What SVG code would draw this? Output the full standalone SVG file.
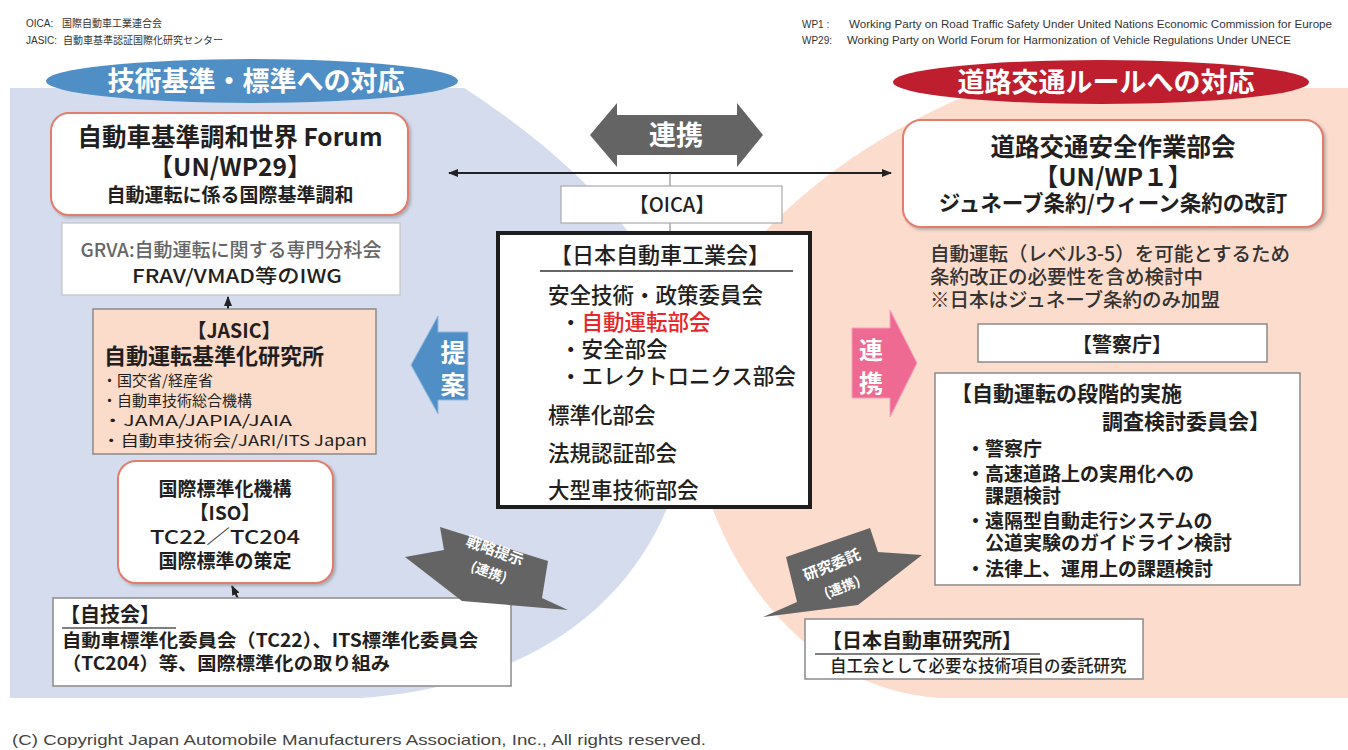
<svg xmlns="http://www.w3.org/2000/svg" width="1348" height="750" viewBox="0 0 1348 750">
<style>
.jp{font-family:"Noto Sans CJK JP","Noto Sans",sans-serif;fill:#231f20}
.lat{font-family:"Liberation Sans",Arial,sans-serif;fill:#333}
.b{font-weight:bold}
.m{font-weight:500}
.c{text-anchor:middle}
.w{fill:#fff}
.rbox{fill:#fff;stroke:#e27d6c;stroke-width:2}
.gbox{fill:#fff;stroke:#8a8a8a;stroke-width:1.5}
.conn{stroke:#222;stroke-width:2;fill:none}
.thin{stroke:#777;stroke-width:1;fill:none}
.garrow{fill:#646464}
</style>
<defs>
<marker id="ah" viewBox="0 0 10 8" refX="9" refY="4" markerWidth="10" markerHeight="8" markerUnits="userSpaceOnUse" orient="auto-start-reverse">
<path d="M0,0 L10,4 L0,8 z" fill="#222"/>
</marker>
<filter id="sh" x="-5%" y="-5%" width="112%" height="115%">
<feDropShadow dx="2" dy="2" stdDeviation="1.5" flood-color="#8a8a8a" flood-opacity="0.6"/>
</filter>
</defs>

<!-- backgrounds -->
<path d="M10,88 H464 C560,150 690,260 690,390 C690,530 600,680 361,698 H10 Z" fill="#d5dcee"/>
<path d="M1348,88 H985 C850,140 690,260 690,390 C690,530 790,690 940,698 H1348 Z" fill="#fcdccc"/>

<!-- legends -->
<g id="legend-left">
<text class="lat" x="26" y="27" font-size="10">OICA:</text>
<text class="jp" x="62" y="27" font-size="10" style="fill:#333">国際自動車工業連合会</text>
<text class="lat" x="26" y="44" font-size="10">JASIC:</text>
<text class="jp" x="63" y="44" font-size="10" style="fill:#333">自動車基準認証国際化研究センター</text>
</g>
<g id="legend-right">
<text class="lat" x="802" y="28" font-size="10">WP1 :</text>
<text class="lat" x="849" y="28" font-size="10" textLength="483" lengthAdjust="spacingAndGlyphs">Working Party on Road Traffic Safety  Under United Nations Economic Commission for Europe</text>
<text class="lat" x="802" y="44" font-size="10">WP29:</text>
<text class="lat" x="847" y="44" font-size="10" textLength="444" lengthAdjust="spacingAndGlyphs">Working Party on World Forum for Harmonization of Vehicle Regulations Under UNECE</text>
</g>

<!-- headers -->
<g id="header-left">
<ellipse cx="252" cy="81" rx="206" ry="22" fill="#4f8fc6"/>
<text class="jp b c w" x="256" y="91" font-size="27">技術基準・標準への対応</text>
</g>
<g id="header-right">
<ellipse cx="1101" cy="82" rx="208" ry="22" fill="#be1e2d"/>
<text class="jp b c w" x="1106" y="92" font-size="27">道路交通ルールへの対応</text>
</g>

<!-- connectors -->
<g id="connectors">
<line class="conn" x1="449" y1="173" x2="891" y2="173" marker-start="url(#ah)" marker-end="url(#ah)"/>
<line class="thin" x1="670" y1="173" x2="670" y2="186"/>
<line class="thin" x1="670" y1="223" x2="670" y2="232"/>
<line class="conn" x1="228" y1="310" x2="228" y2="297" stroke-width="1.5" marker-end="url(#ah)"/>
<line class="conn" x1="241" y1="605" x2="232" y2="586" stroke-width="2.5" marker-end="url(#ah)"/>
</g>

<!-- 連携 double arrow -->
<g id="arrow-renkei-top">
<polygon class="garrow" points="590,135 617,103 617,115 737,115 737,103 763,135 737,167 737,155 617,155 617,167"/>
<text class="jp b c w" x="676" y="145" font-size="27">連携</text>
</g>

<!-- WP29 -->
<g id="wp29">
<rect class="rbox" x="51" y="113" width="357" height="102" rx="18" filter="url(#sh)"/>
<text class="jp b c" x="230" y="146" font-size="24.5">自動車基準調和世界 Forum</text>
<text class="jp b c" x="230" y="176" font-size="24.5">【UN/WP29】</text>
<text class="jp b c" x="230" y="202" font-size="19">自動運転に係る国際基準調和</text>
</g>

<g id="grva">
<rect x="62" y="223" width="338" height="72" fill="#fff" stroke="#c4c4c4" stroke-width="1.2"/>
<text class="jp m c" x="231" y="257" font-size="19" style="fill:#666">GRVA:自動運転に関する専門分科会</text>
<text class="jp m" x="132" y="283" font-size="19" textLength="210" lengthAdjust="spacingAndGlyphs">FRAV/VMAD等のIWG</text>
</g>

<g id="jasic">
<rect x="93" y="309" width="283" height="145" fill="#fbdccb" stroke="#8a8a8a" stroke-width="1.5"/>
<text class="jp b c" x="234" y="338" font-size="19.5">【JASIC】</text>
<text class="jp b" x="104" y="364" font-size="22">自動運転基準化研究所</text>
<text class="jp" x="102" y="386" font-size="15">・国交省/経産省</text>
<text class="jp" x="102" y="406" font-size="15">・自動車技術総合機構</text>
<text class="jp" x="102" y="426" font-size="15" textLength="190" lengthAdjust="spacingAndGlyphs">・JAMA/JAPIA/JAIA</text>
<text class="jp" x="102" y="446" font-size="15" textLength="265" lengthAdjust="spacingAndGlyphs">・自動車技術会/JARI/ITS Japan</text>
</g>

<g id="arrow-teian">
<polygon points="411,365 438,316 438,332 468,332 468,400 438,400 438,414" fill="#4f8fc6" stroke="#8fb8de" stroke-width="1"/>
<text class="jp b c w" x="453" y="362" font-size="25">提</text>
<text class="jp b c w" x="453" y="394" font-size="25">案</text>
</g>

<g id="iso">
<rect class="rbox" x="118" y="461" width="215" height="122" rx="18" filter="url(#sh)"/>
<text class="jp b c" x="225" y="496" font-size="19">国際標準化機構</text>
<text class="jp b c" x="225" y="520" font-size="19">【ISO】</text>
<text class="jp m" x="150" y="544" font-size="19" textLength="150" lengthAdjust="spacingAndGlyphs">TC22／TC204</text>
<text class="jp b c" x="225" y="568" font-size="19">国際標準の策定</text>
</g>

<g id="jigikai">
<rect class="gbox" x="53" y="598" width="458" height="88"/>
<text class="jp b" x="60" y="622" font-size="20">【自技会】</text>
<line x1="62" y1="628" x2="176" y2="628" stroke="#555" stroke-width="1.5"/>
<text class="jp b" x="62" y="647" font-size="18.5" textLength="416" lengthAdjust="spacingAndGlyphs">自動車標準化委員会（TC22）、ITS標準化委員会</text>
<text class="jp b" x="62" y="670" font-size="18.5" textLength="328" lengthAdjust="spacingAndGlyphs">（TC204）等、国際標準化の取り組み</text>
</g>

<g id="arrow-senryaku">
<polygon class="garrow" points="440,527 548,561 542,598 568,610 462,601 405,557 444,550"/>
<text class="jp b c w" x="495" y="556" font-size="15" transform="rotate(20 495 551)">戦略提示</text>
<text class="jp b c w" x="489" y="577" font-size="13.5" transform="rotate(20 489 572)">(連携)</text>
</g>

<!-- center -->
<g id="oica">
<rect x="561" y="186" width="221" height="37" fill="#fff" stroke="#aaa" stroke-width="1.2"/>
<text class="jp m c" x="672" y="212" font-size="20">【OICA】</text>
</g>

<g id="jama">
<rect x="498" y="233" width="312" height="274" fill="#fff" stroke="#1e1e1e" stroke-width="4"/>
<text class="jp m c" x="660" y="263" font-size="22">【日本自動車工業会】</text>
<line x1="540" y1="271" x2="793" y2="271" stroke="#666" stroke-width="2"/>
<text class="jp m" x="548" y="303" font-size="21.5">安全技術・政策委員会</text>
<text class="jp m" x="560" y="330" font-size="21.5">・<tspan style="fill:#e8262a">自動運転部会</tspan></text>
<text class="jp m" x="560" y="357" font-size="21.5">・安全部会</text>
<text class="jp m" x="560" y="384" font-size="21.5">・エレクトロニクス部会</text>
<text class="jp m" x="548" y="423" font-size="21.5">標準化部会</text>
<text class="jp m" x="548" y="461" font-size="21.5">法規認証部会</text>
<text class="jp m" x="548" y="498" font-size="21.5">大型車技術部会</text>
</g>

<!-- right -->
<g id="wp1">
<rect class="rbox" x="903" y="120" width="420" height="107" rx="18" filter="url(#sh)"/>
<text class="jp b c" x="1113" y="156" font-size="24.5">道路交通安全作業部会</text>
<text class="jp b c" x="1113" y="186" font-size="24.5">【UN/WP１】</text>
<text class="jp b c" x="1113" y="211" font-size="21.5">ジュネーブ条約/ウィーン条約の改訂</text>
</g>

<g id="wp1-note">
<text class="jp m" x="930" y="261" font-size="19.5" style="fill:#333">自動運転（レベル3-5）を可能とするため</text>
<text class="jp m" x="930" y="284" font-size="19.5" style="fill:#333">条約改正の必要性を含め検討中</text>
<text class="jp m" x="930" y="307" font-size="19.5" style="fill:#333">※日本はジュネーブ条約のみ加盟</text>
</g>

<g id="npa">
<rect x="978" y="324" width="289" height="38" fill="#fff" stroke="#8a8a8a" stroke-width="1.5"/>
<text class="jp b c" x="1122" y="352" font-size="20">【警察庁】</text>
</g>

<g id="arrow-renkei-right">
<polygon points="852,328 890,328 890,310 917,363 890,417 890,398 852,398" fill="#ef6a93" stroke="#f5a0bb" stroke-width="1"/>
<text class="jp b c w" x="871" y="359" font-size="24">連</text>
<text class="jp b c w" x="871" y="392" font-size="24">携</text>
</g>

<g id="committee">
<rect class="gbox" x="935" y="373" width="365" height="212"/>
<text class="jp b" x="951" y="401" font-size="21">【自動運転の段階的実施</text>
<text class="jp b" x="1102" y="429" font-size="21">調査検討委員会】</text>
<text class="jp b" x="966" y="456" font-size="19">・警察庁</text>
<text class="jp b" x="966" y="481" font-size="19">・高速道路上の実用化への</text>
<text class="jp b" x="985" y="503" font-size="19">課題検討</text>
<text class="jp b" x="966" y="528" font-size="19">・遠隔型自動走行システムの</text>
<text class="jp b" x="985" y="550" font-size="19">公道実験のガイドライン検討</text>
<text class="jp b" x="966" y="576" font-size="19">・法律上、運用上の課題検討</text>
</g>

<g id="arrow-kenkyu">
<polygon class="garrow" points="786,557 870,528 878,552 922,555 858,605 763,617 797,602"/>
<text class="jp b c w" x="832" y="570" font-size="15" transform="rotate(-22 832 565)">研究委託</text>
<text class="jp b c w" x="842" y="592" font-size="13.5" transform="rotate(-22 842 587)">(連携)</text>
</g>

<g id="jari">
<rect class="gbox" x="805" y="619" width="338" height="60"/>
<text class="jp b" x="822" y="648" font-size="20">【日本自動車研究所】</text>
<line x1="815" y1="654" x2="1040" y2="654" stroke="#555" stroke-width="1.5"/>
<text class="jp m" x="830" y="672" font-size="16.5">自工会として必要な技術項目の委託研究</text>
</g>

<text class="lat" x="12" y="745" font-size="15" textLength="694" lengthAdjust="spacingAndGlyphs" style="fill:#444">(C) Copyright Japan Automobile Manufacturers Association, Inc., All rights reserved.</text>
</svg>
